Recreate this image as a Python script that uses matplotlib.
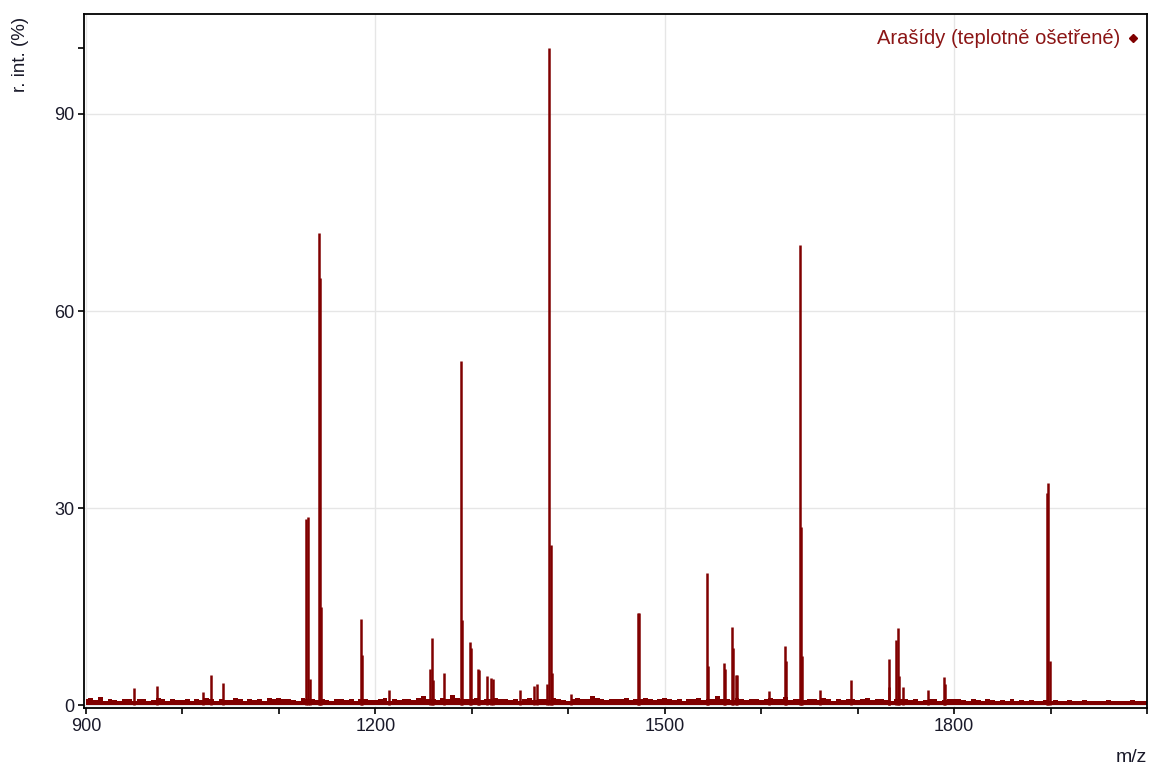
import numpy as np
import matplotlib
matplotlib.use('Agg')
import matplotlib.pyplot as plt
from matplotlib.ticker import MultipleLocator, FixedLocator

plt.rcParams['font.family'] = ['Liberation Sans', 'DejaVu Sans']

# peak list (m/z, relative intensity %)
peak_mz = [949.7, 973.6, 1021.0, 1029.5, 1042.0, 1128.0, 1130.0, 1132.0,
           1141.5, 1142.5, 1143.5, 1185.0, 1186.0, 1214.0, 1256.5, 1258.5,
           1260.0, 1271.0, 1288.6, 1289.6, 1298.0, 1299.0, 1306.0, 1307.0,
           1315.5, 1319.5, 1321.5, 1350.0, 1365.0, 1368.0, 1377.5, 1379.8,
           1381.9, 1383.0, 1403.0, 1472.0, 1473.0, 1543.5, 1544.6, 1561.0,
           1562.0, 1569.4, 1570.4, 1573.5, 1574.5, 1608.0, 1624.4, 1625.4,
           1639.9, 1641.0, 1642.0, 1661.0, 1692.7, 1732.0, 1733.0, 1739.4,
           1741.5, 1742.5, 1747.5, 1773.0, 1789.0, 1791.0, 1895.9, 1896.9,
           1899.0]
peak_int = [2.7, 3.0, 2.0, 4.7, 3.4, 28.3, 28.6, 4.0,
            71.9, 65.0, 15.0, 13.1, 7.6, 2.3, 5.6, 10.2,
            3.8, 5.0, 52.4, 13.0, 9.7, 8.7, 5.6, 5.4,
            4.4, 4.2, 4.0, 2.3, 2.9, 3.2, 3.2, 100.0,
            24.4, 5.0, 1.8, 14.0, 14.0, 20.2, 6.0, 6.4,
            5.6, 11.9, 8.8, 4.7, 4.7, 2.2, 9.1, 6.7,
            70.0, 27.1, 7.5, 2.3, 3.8, 7.0, 2.8, 10.0,
            11.7, 4.4, 2.8, 2.4, 4.3, 3.2, 32.3, 33.8,
            6.7]

# baseline level, one value per 5 m/z from 900 to 2000
base_mz = list(range(900, 2001, 5))
base_int = [0.9, 1.1, 0.8, 1.3, 0.7, 1.0, 0.8, 0.6, 0.9, 1.0,
            0.7, 0.9, 1.0, 0.7, 0.8, 1.1, 0.9, 0.7, 1.0, 0.8,
            0.8, 1.0, 0.7, 0.9, 0.8, 1.1, 1.0, 0.7, 0.9, 0.8,
            0.8, 1.2, 0.9, 0.7, 1.0, 0.8, 0.9, 0.7, 1.1, 0.9,
            1.2, 0.9, 1.0, 0.8, 0.7, 1.1, 1.0, 0.9, 0.8, 1.0,
            0.8, 0.7, 0.9, 1.0, 0.8, 0.9, 0.7, 1.0, 0.9, 0.8,
            0.8, 1.0, 1.1, 0.7, 0.9, 0.8, 1.0, 0.9, 0.8, 1.2,
            1.4, 1.0, 0.9, 0.8, 1.1, 0.9, 1.6, 1.2, 1.0, 0.9,
            0.9, 1.1, 0.8, 1.0, 0.9, 1.1, 1.0, 0.9, 0.8, 1.0,
            0.7, 0.9, 1.1, 0.8, 0.9, 1.0, 0.8, 1.1, 0.9, 0.8,
            0.7, 0.9, 1.2, 1.0, 0.9, 1.5, 1.1, 0.9, 0.8, 1.0,
            0.9, 1.0, 1.1, 0.8, 0.9, 1.0, 1.2, 0.9, 0.8, 1.0,
            1.2, 0.9, 0.8, 1.0, 0.7, 0.9, 0.9, 1.1, 0.8, 0.9,
            1.0, 1.4, 0.9, 1.0, 0.8, 1.1, 0.9, 0.8, 1.0, 0.9,
            0.8, 1.0, 1.2, 0.9, 0.9, 1.3, 0.8, 1.0, 0.9, 0.8,
            1.0, 0.9, 0.8, 1.1, 0.9, 0.7, 1.0, 0.8, 0.9, 1.0,
            0.8, 0.9, 1.1, 0.8, 0.9, 1.0, 0.8, 0.7, 1.0, 0.9,
            1.0, 0.8, 0.9, 0.7, 0.8, 1.0, 0.9, 0.7, 0.8, 0.9,
            0.9, 1.0, 0.8, 0.7, 0.9, 0.8, 0.7, 0.9, 0.8, 0.7,
            0.8, 0.7, 0.9, 0.6, 0.8, 0.7, 0.8, 0.6, 0.7, 0.8,
            0.7, 0.8, 0.6, 0.7, 0.8, 0.6, 0.7, 0.8, 0.6, 0.7,
            0.7, 0.6, 0.8, 0.7, 0.6, 0.7, 0.6, 0.8, 0.6, 0.7,
            0.6]

red = '#800000'
ink = '#1a1a2a'

fig = plt.figure(figsize=(11.52, 7.69), dpi=100)
ax = fig.add_axes([0.0729, 0.0793, 0.9228, 0.9025])

ax.fill_between(base_mz, 0, base_int, step='mid', color=red, lw=0, zorder=2)
ax.vlines(peak_mz, 0, peak_int, color=red, lw=1.8, zorder=3)

ax.set_xlim(898, 2000)
ax.set_ylim(-0.4, 105.2)

ax.xaxis.set_major_locator(MultipleLocator(300))
ax.xaxis.set_minor_locator(MultipleLocator(100))
ax.set_yticks([0, 30, 60, 90])
ax.yaxis.set_minor_locator(FixedLocator([100]))

ax.tick_params(which='both', direction='out', length=4, width=1.2,
               labelsize=13, labelcolor=ink, color='black', pad=3)
ax.grid(True, which='major', color='#e6e6e6', lw=1, zorder=0)
ax.set_axisbelow(True)
for s in ax.spines.values():
    s.set_linewidth(1.3)

fig.text(0.018, 0.978, 'r. int. (%)', rotation=90, ha='center', va='top',
         fontsize=13.5, color=ink)
fig.text(0.996, 0.004, 'm/z', ha='right', va='bottom', fontsize=14,
         color=ink)

ax.text(0.975, 0.965, 'Arašídy (teplotně ošetřené)', transform=ax.transAxes,
        ha='right', va='center', fontsize=14.5, color='#8b1515')
ax.plot([0.987], [0.965], marker='D', ms=4.5, color=red,
        transform=ax.transAxes, clip_on=False)

fig.savefig('out.png', dpi=100)
